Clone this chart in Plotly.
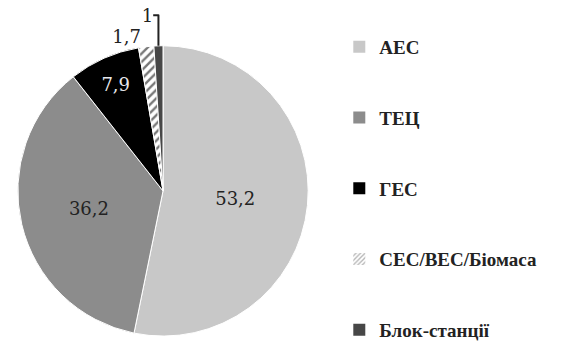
import plotly.graph_objects as go

labels = ["АЕС", "ТЕЦ", "ГЕС", "СЕС/ВЕС/Біомаса", "Блок-станції"]
values = [53.2, 36.2, 7.9, 1.7, 1.0]
colors = ["#c8c8c8", "#8c8c8c", "#000000", "#ffffff", "#474747"]
patterns = ["", "", "", "/", ""]
text_colors = ["#222222", "#222222", "#e8e8ee", "#222222", "#222222"]
text_pos = ["inside", "inside", "inside", "outside", "outside"]

FONT = "Liberation Serif"
W, H = 579, 349
cx, cy, r = 163, 190, 146

fig = go.Figure()
fig.add_trace(go.Pie(
    labels=labels, values=values, sort=False, direction="clockwise", rotation=0,
    marker=dict(colors=colors, line=dict(color="white", width=1),
                pattern=dict(shape=patterns, fgcolor="#777777", bgcolor="white", size=6, solidity=0.4)),
    textinfo="value", textposition=text_pos,
    insidetextorientation="horizontal",
    textfont=dict(family="DejaVu Serif", size=18, color=text_colors),
    outsidetextfont=dict(family="DejaVu Serif", size=18, color="#222222"),
    showlegend=False,
    domain=dict(x=[(cx - r) / W, (cx + r) / W], y=[(H - cy - r) / H, (H - cy + r) / H]),
))

for lab, col, pat in zip(labels, colors, patterns):
    fig.add_trace(go.Bar(
        x=[None], y=[None], name="<b>" + lab + "</b>", legendgroup=lab,
        marker=dict(color=col, line=dict(width=0),
                    pattern=dict(shape=pat, fgcolor="#666666", bgcolor="white", size=4, solidity=0.4)),
    ))

fig.update_layout(
    width=W, height=H, margin=dict(l=0, r=0, t=0, b=0),
    paper_bgcolor="white", plot_bgcolor="white",
    separators=", ",
    font=dict(family="serif"),
    xaxis=dict(visible=False), yaxis=dict(visible=False),
    legend=dict(x=0.586, y=0.868, xanchor="left", yanchor="top",
                font=dict(family=FONT, size=19, color="#222222"),
                tracegroupgap=43, itemwidth=30, traceorder="grouped"),
)

fig.write_html("out.html")
